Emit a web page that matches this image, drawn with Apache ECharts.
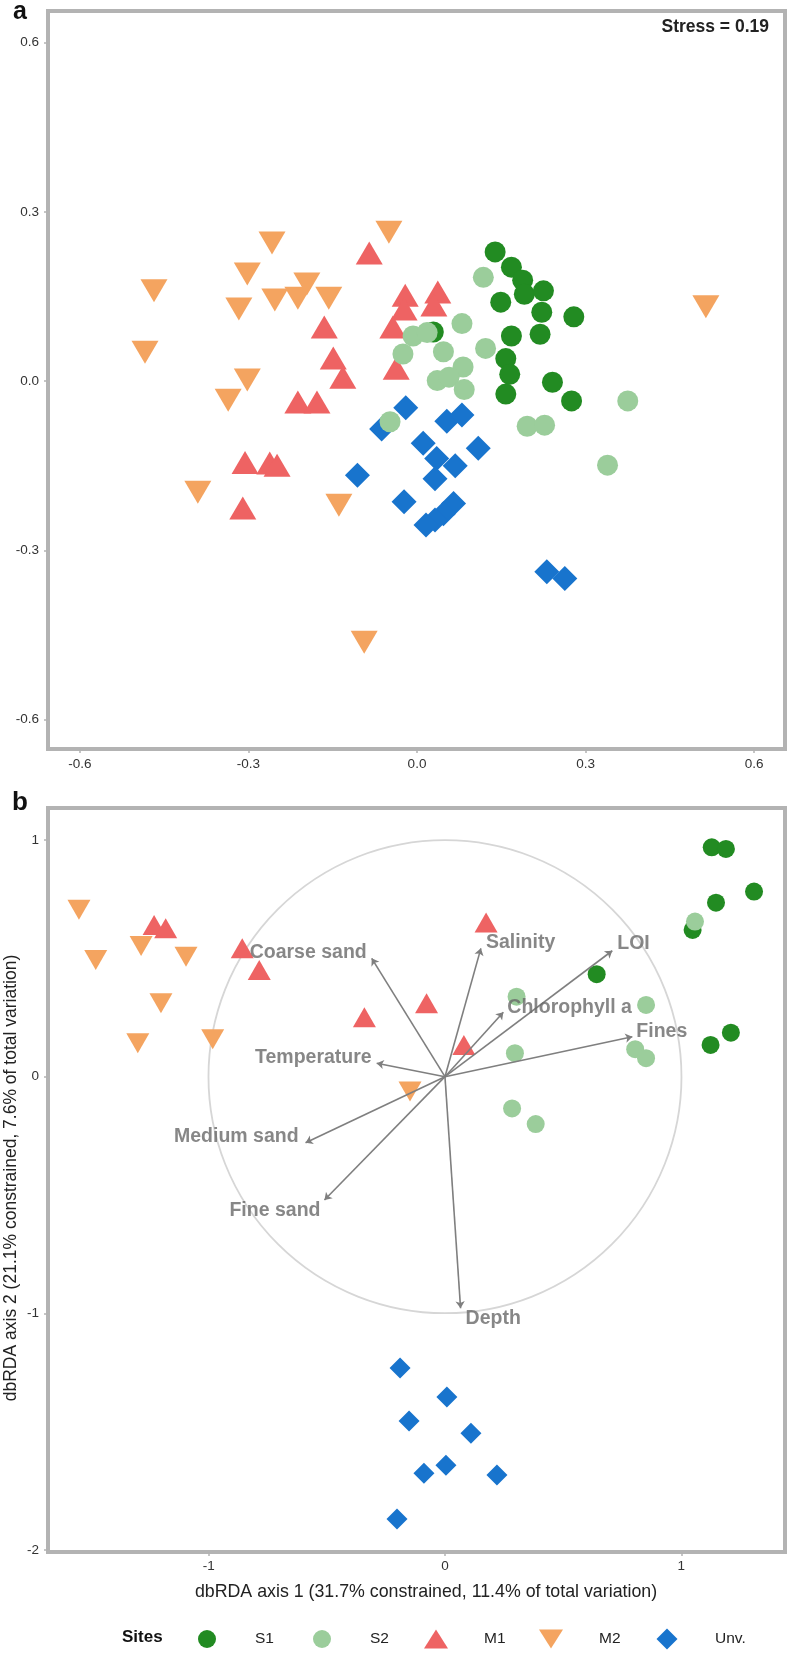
<!DOCTYPE html>
<html>
<head>
<meta charset="utf-8">
<script src="https://cdn.jsdelivr.net/npm/echarts@6/dist/echarts.min.js"></script>
<style>
html,body{margin:0;padding:0;background:#ffffff;}
#chart{width:789px;height:1653px;}
</style>
</head>
<body>
<div id="chart"></div>
<script>
// ---------------- DATA ----------------
const sites = ['S1', 'S2', 'M1', 'M2', 'Unv.'];

// Panel a: nMDS ordination (x = MDS1, y = MDS2)
const nmdsS1 = [[0.139,0.229],[0.168,0.202],[0.188,0.179],[0.191,0.154],[0.225,0.160],[0.149,0.140],[0.222,0.122],[0.279,0.114],[0.168,0.080],[0.219,0.083],[0.029,0.087],[0.158,0.040],[0.165,0.012],[0.158,-0.023],[0.241,-0.002],[0.275,-0.035]];
const nmdsS2 = [[0.118,0.184],[0.080,0.102],[0.122,0.058],[-0.007,0.080],[0.018,0.086],[-0.025,0.048],[0.047,0.052],[0.082,0.025],[0.036,0.001],[0.057,0.007],[0.084,-0.015],[-0.048,-0.072],[0.196,-0.080],[0.227,-0.078],[0.375,-0.035],[0.339,-0.149]];
const nmdsM1 = [[-0.085,0.227],[-0.021,0.152],[-0.023,0.128],[0.037,0.158],[0.030,0.135],[-0.043,0.096],[-0.037,0.023],[-0.165,0.096],[-0.149,0.041],[-0.132,0.007],[-0.212,-0.037],[-0.178,-0.037],[-0.306,-0.144],[-0.262,-0.145],[-0.249,-0.149],[-0.310,-0.225]];
const nmdsM2 = [[-0.468,0.160],[-0.484,0.051],[-0.258,0.245],[-0.302,0.190],[-0.317,0.128],[-0.253,0.144],[-0.196,0.172],[-0.212,0.147],[-0.157,0.147],[-0.302,0.002],[-0.336,-0.034],[-0.390,-0.197],[-0.139,-0.220],[-0.050,0.264],[0.514,0.132],[-0.094,-0.463]];
const nmdsUnv = [[-0.020,-0.047],[-0.063,-0.085],[0.053,-0.071],[0.080,-0.060],[0.011,-0.110],[0.109,-0.119],[0.035,-0.137],[0.068,-0.150],[0.032,-0.173],[-0.106,-0.167],[-0.023,-0.214],[0.065,-0.217],[0.047,-0.235],[0.032,-0.246],[0.016,-0.255],[0.231,-0.338],[0.263,-0.350]];
const stressText = 'Stress = 0.19';

// Panel b: dbRDA ordination
const dbS1 = [[1.129,0.969],[1.189,0.962],[1.308,0.782],[1.147,0.735],[1.048,0.620],[0.642,0.433],[1.210,0.186],[1.124,0.134]];
const dbS2 = [[1.058,0.655],[0.303,0.338],[0.851,0.303],[0.296,0.099],[0.805,0.116],[0.851,0.078],[0.284,-0.134],[0.384,-0.200]];
const dbM1 = [[-1.231,0.641],[-1.182,0.627],[-0.858,0.542],[-0.786,0.451],[-0.341,0.251],[-0.078,0.310],[0.080,0.134],[0.174,0.651]];
const dbM2 = [[-1.549,0.705],[-1.478,0.493],[-1.286,0.552],[-1.096,0.507],[-1.202,0.310],[-1.300,0.141],[-0.983,0.158],[-0.148,-0.063]];
const dbUnv = [[-0.190,-1.231],[0.008,-1.353],[-0.152,-1.455],[0.110,-1.506],[0.004,-1.641],[-0.089,-1.675],[0.220,-1.683],[-0.203,-1.869]];

// Environmental vectors (arrow tips)
const envNames = ['Salinity','LOI','Chlorophyll a','Fines','Depth','Fine sand','Medium sand','Temperature','Coarse sand'];
const envX = [0.152, 0.708, 0.247, 0.793, 0.066, -0.510, -0.590, -0.289, -0.310];
const envY = [0.542, 0.532, 0.272, 0.169, -0.978, -0.521, -0.279, 0.057, 0.500];
const circleRadius = 1;

// Tick labels
const nmdsTicks = [-0.6, -0.3, 0, 0.3, 0.6];
const dbXTicks = [-1, 0, 1];
const dbYTicks = [-2, -1, 0, 1];
const xTitleB = 'dbRDA axis 1 (31.7% constrained, 11.4% of total variation)';
const yTitleB = 'dbRDA axis 2 (21.1% constrained, 7.6% of total variation)';

// ---------------- STYLE ----------------
const FONT = '"Liberation Sans", Arial, Helvetica, sans-serif';
const siteColor = {'S1':'#228B22','S2':'#9BCD9B','M1':'#EE6363','M2':'#F4A460','Unv.':'#1874CD'};
const siteSymbol = {'S1':'circle','S2':'circle','M1':'triangle','M2':'triangle','Unv.':'diamond'};
const siteRotate = {'S1':0,'S2':0,'M1':0,'M2':180,'Unv.':0};
const sizeA = {'S1':21,'S2':21,'M1':[27,23],'M2':[27,23],'Unv.':[25,25]};
const sizeB = {'S1':18,'S2':18,'M1':[23,20],'M2':[23,20],'Unv.':[21,21]};
const drawOrder = ['M1','M2','Unv.','S1','S2'];
const nmdsData = {'S1':nmdsS1,'S2':nmdsS2,'M1':nmdsM1,'M2':nmdsM2,'Unv.':nmdsUnv};
const dbData = {'S1':dbS1,'S2':dbS2,'M1':dbM1,'M2':dbM2,'Unv.':dbUnv};
// label placement of the vectors (same order as envNames)
const envLabelPos = [
  {position:'right', offset:[0,-6]},
  {position:'right', offset:[0,-7]},
  {position:'right', offset:[-1,-5]},
  {position:'right', offset:[-1,-5]},
  {position:'right', offset:[0,10]},
  {position:'left', offset:[1,11]},
  {position:'left', offset:[-2,-6]},
  {position:'left', offset:[0,-6]},
  {position:'left', offset:[0,-6]}
];
const FRAME = '#b3b3b3';

function fmt1(v){ return (Math.abs(v) < 1e-9 ? 0 : v).toFixed(1); }
function fmt0(v){ return String(Math.round(v)); }

function axisCommon(ticks, formatter, margin){
  return {
    type:'value',
    axisLine:{show:false, onZero:false},
    splitLine:{show:false},
    axisTick:{show:true, length:4, customValues:ticks, lineStyle:{color:FRAME, width:1.5}},
    axisLabel:{show:true, customValues:ticks, formatter:formatter, margin:margin, fontSize:13.5, color:'#333333', fontFamily:FONT}
  };
}

const series = [];
drawOrder.forEach(s => {
  series.push({
    name:s, type:'scatter', xAxisIndex:0, yAxisIndex:0,
    data:nmdsData[s], symbol:siteSymbol[s], symbolRotate:siteRotate[s], symbolSize:sizeA[s],
    itemStyle:{color:siteColor[s], opacity:1}, z:2, silent:true
  });
});
// panel b circle
series.push({
  name:'circle', type:'custom', xAxisIndex:1, yAxisIndex:1, silent:true, z:1,
  data:[[0,0,circleRadius]],
  renderItem:function(params, api){
    const c = api.coord([api.value(0), api.value(1)]);
    const s = api.size([api.value(2), api.value(2)]);
    return {type:'circle', shape:{cx:c[0], cy:c[1], r:(s[0]+s[1])/2}, style:{fill:null, stroke:'#d6d6d6', lineWidth:1.8}};
  }
});
drawOrder.forEach(s => {
  series.push({
    name:s, type:'scatter', xAxisIndex:1, yAxisIndex:1,
    data:dbData[s], symbol:siteSymbol[s], symbolRotate:siteRotate[s], symbolSize:sizeB[s],
    itemStyle:{color:siteColor[s], opacity:1}, z:2, silent:true
  });
});
series.push({
  name:'vectors', type:'lines', coordinateSystem:'cartesian2d', xAxisIndex:1, yAxisIndex:1,
  symbol:['none','arrow'], symbolSize:7, silent:true, z:3,
  lineStyle:{color:'#7f7f7f', width:1.6, opacity:1},
  data:envNames.map((n,i)=>({coords:[[0,0],[envX[i],envY[i]]]}))
});
series.push({
  name:'vector labels', type:'scatter', xAxisIndex:1, yAxisIndex:1, symbolSize:0, silent:true, z:4,
  itemStyle:{color:'rgba(0,0,0,0)'},
  label:{show:true, formatter:'{b}', fontSize:19.5, fontWeight:'bold', color:'#696969', fontFamily:FONT, distance:5},
  data:envNames.map((n,i)=>({name:n, value:[envX[i],envY[i]], label:envLabelPos[i]}))
});

const legendCenters = [207, 322, 436, 551, 667];
const legendSize = {'S1':[18,18],'S2':[18,18],'M1':[24,19],'M2':[24,19],'Unv.':[21,21]};
const legendIcon = {'M2':'path://M0,0 L24,0 L12,19 Z'};
const legends = sites.map((s,i)=>{
  const w = legendSize[s][0], h = legendSize[s][1];
  const item = legendIcon[s] ? {name:s, icon:legendIcon[s]} : {name:s};
  return {
    data:[item], left:legendCenters[i]-w/2, top:1639-h/2, itemWidth:w, itemHeight:h,
    padding:0, itemGap:0, selectedMode:false, orient:'horizontal',
    textStyle:{fontSize:15.5, color:'#222222', fontFamily:FONT, padding:[0,0,0,48-w/2-5]}
  };
});

const option = {
  animation:false,
  backgroundColor:'#ffffff',
  grid:[
    {left:48, right:4, top:11, height:738, show:true, borderColor:FRAME, borderWidth:4, backgroundColor:'#ffffff', outerBoundsMode:'none', containLabel:false},
    {left:48, right:4, top:808, height:744, show:true, borderColor:FRAME, borderWidth:4, backgroundColor:'#ffffff', outerBoundsMode:'none', containLabel:false}
  ],
  xAxis:[
    Object.assign(axisCommon(nmdsTicks, fmt1, 8), {gridIndex:0, min:-0.6566, max:0.6548}),
    Object.assign(axisCommon(dbXTicks, fmt0, 7), {gridIndex:1, min:-1.680, max:1.439,
      name:xTitleB, nameLocation:'middle', nameGap:31,
      nameTextStyle:{fontSize:17.8, color:'#222222', fontFamily:FONT, padding:[0,0,0,19]}})
  ],
  yAxis:[
    Object.assign(axisCommon(nmdsTicks, fmt1, 9), {gridIndex:0, min:-0.652, max:0.656}),
    Object.assign(axisCommon(dbYTicks, fmt0, 9), {gridIndex:1, min:-2.008, max:1.135})
  ],
  legend:legends,
  graphic:[
    {type:'text', left:13, top:0, style:{text:'a', fontSize:25, fontWeight:'bold', fill:'#111111', fontFamily:FONT}},
    {type:'text', left:12, top:790, style:{text:'b', fontSize:26, fontWeight:'bold', fill:'#111111', fontFamily:FONT}},
    {type:'text', right:20, top:18, style:{text:stressText, fontSize:17.5, fontWeight:'bold', fill:'#222222', fontFamily:FONT}},
    {type:'text', left:122, top:1629, style:{text:'Sites', fontSize:17, fontWeight:'bold', fill:'#111111', fontFamily:FONT}},
    {type:'text', x:11, y:1178, rotation:Math.PI/2,
      style:{text:yTitleB, fontSize:17.5, fill:'#222222', fontFamily:FONT, align:'center', verticalAlign:'middle'}}
  ],
  series:series
};

const chart = echarts.init(document.getElementById('chart'), null, {renderer:'canvas'});
chart.setOption(option);
</script>
</body>
</html>
